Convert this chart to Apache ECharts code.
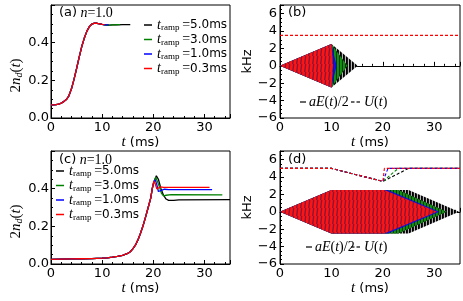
<!DOCTYPE html>
<html><head><meta charset="utf-8">
<script src="https://cdn.jsdelivr.net/npm/echarts@6/dist/echarts.min.js"></script>
<style>html,body{margin:0;padding:0;background:#fff}#c{width:463px;height:301px}</style>
</head><body><div id="c"></div>
<script>
// ---------------- data ----------------
const ramps = ['5.0', '3.0', '1.0', '0.3'];        // t_ramp (ms), legend order
const rampColors = ['#000000', '#008000', '#0000ff', '#ff0000'];

// panel (a): 2 n_d(t), shared part then per-ramp tails
const aCommonT = [0, 0.5, 1, 1.5, 2, 2.5, 3, 3.5, 4, 4.5, 5, 5.5, 6, 6.5, 7, 7.5, 8, 8.5, 9, 9.5, 10];
const aCommonN = [0.070, 0.070, 0.071, 0.074, 0.079, 0.087, 0.098, 0.118, 0.155, 0.205, 0.262, 0.322, 0.378, 0.423, 0.460, 0.485, 0.499, 0.504, 0.503, 0.500, 0.497];
const aTail50T = [10.5, 11, 11.5, 12, 13, 14, 15, 15.5];
const aTail50N = [0.495, 0.493, 0.493, 0.494, 0.495, 0.496, 0.496, 0.496];
const aTail30T = [10.5, 11, 11.5, 12, 12.5, 13, 13.5];
const aTail30N = [0.495, 0.493, 0.493, 0.494, 0.495, 0.496, 0.496];
const aTail10T = [10.5, 11, 11.3];
const aTail10N = [0.495, 0.494, 0.494];
const aTail03T = [10.5];
const aTail03N = [0.496];

// panel (c)
const cCommonT = [0, 2, 4, 6, 8, 10, 11, 12, 13, 14, 15, 15.5, 16, 16.5, 17, 17.5, 18, 18.5, 19, 19.5];
const cCommonN = [0.025, 0.026, 0.027, 0.028, 0.029, 0.031, 0.033, 0.036, 0.040, 0.046, 0.056, 0.065, 0.080, 0.100, 0.128, 0.163, 0.203, 0.250, 0.300, 0.350];
const cTail50T = [19.8, 20.1, 20.6, 21, 21.5, 22, 22.5, 23, 24, 25, 35];
const cTail50N = [0.400, 0.435, 0.468, 0.450, 0.400, 0.365, 0.345, 0.338, 0.338, 0.341, 0.342];
const cTail30T = [19.8, 20.1, 20.5, 20.8, 21.2, 21.6, 22, 22.5, 23.5, 33.5];
const cTail30N = [0.400, 0.435, 0.460, 0.450, 0.410, 0.375, 0.362, 0.365, 0.368, 0.367];
const cTail10T = [19.8, 20.1, 20.4, 20.7, 21.0, 21.3, 21.7, 22.2, 23, 31.5];
const cTail10N = [0.400, 0.435, 0.447, 0.420, 0.385, 0.378, 0.392, 0.397, 0.395, 0.395];
const cTail03T = [19.8, 20.1, 20.4, 20.7, 21.0, 21.4, 22, 31];
const cTail03N = [0.400, 0.440, 0.425, 0.398, 0.402, 0.410, 0.407, 0.407];

// panel (b): envelope of aE(t)/2 (kHz) and U(t) (identical for every ramp)
const bEnvT = { '5.0': [0, 10, 15.1], '3.0': [0, 10, 13.1], '1.0': [0, 10, 11], '0.3': [0, 10, 10.35] };
const bEnvA = [0, 2.5, 0];
const bUT = [0, 35];
const bUV = [3.5, 3.5];

// panel (d)
const dEnvT = { '5.0': [0, 10, 25, 34.8], '3.0': [0, 10, 23, 32.4], '1.0': [0, 10, 21, 31], '0.3': [0, 10, 20.3, 30.5] };
const dEnvA = [0, 2.5, 2.5, 0];
const dUT = { '5.0': [0, 10, 20, 25, 35], '3.0': [0, 10, 20, 23, 35], '1.0': [0, 10, 20, 21, 35], '0.3': [0, 10, 20, 20.3, 35] };
const dUV = [5, 5, 3.5, 5, 5];

const xTicks = { min: 0, max: 35, interval: 10 };
const nTicks = { min: 0, max: 0.6, interval: 0.2 };
const kTicks = { min: -6, max: 7, interval: 2 };

// ---------------- helpers ----------------
const zip = (ts, vs) => ts.map((t, i) => [t, vs[i]]);
const aData = {
  '5.0': zip(aCommonT.concat(aTail50T), aCommonN.concat(aTail50N)),
  '3.0': zip(aCommonT.concat(aTail30T), aCommonN.concat(aTail30N)),
  '1.0': zip(aCommonT.concat(aTail10T), aCommonN.concat(aTail10N)),
  '0.3': zip(aCommonT.concat(aTail03T), aCommonN.concat(aTail03N))
};
const cData = {
  '5.0': zip(cCommonT.concat(cTail50T), cCommonN.concat(cTail50N)),
  '3.0': zip(cCommonT.concat(cTail30T), cCommonN.concat(cTail30N)),
  '1.0': zip(cCommonT.concat(cTail10T), cCommonN.concat(cTail10N)),
  '0.3': zip(cCommonT.concat(cTail03T), cCommonN.concat(cTail03N))
};

function stripe(base, dark, w, dw, slant) {
  const h = 8;
  const c = document.createElement('canvas');
  c.width = w; c.height = h;
  const g = c.getContext('2d');
  g.fillStyle = base; g.fillRect(0, 0, w, h);
  g.strokeStyle = dark; g.lineWidth = dw;
  g.beginPath();
  for (let o = -w; o <= w; o += w) { g.moveTo(o + dw / 2, h); g.lineTo(o + dw / 2 + slant, 0); }
  g.stroke();
  return c;
}
const patterns = {
  '5.0': { image: stripe('#000000', '#ffffff', 3, 0.8, 0), repeat: 'repeat' },
  '3.0': { image: stripe('#139113', '#062806', 3, 0.9, 0), repeat: 'repeat' },
  '1.0': { image: stripe('#1010f0', '#101070', 3, 0.6, 0), repeat: 'repeat' },
  '0.3': { image: stripe('#ff1414', '#86173a', 4, 1.4, 1), repeat: 'repeat' }
};

function envSeries(gi, ts, amps, fill) {
  const up = ts.map((t, i) => [t, amps[i]]);
  const pts = up.concat(up.slice().reverse().map(p => [p[0], -p[1]]));
  return {
    type: 'custom', xAxisIndex: gi, yAxisIndex: gi, data: pts, silent: true,
    renderItem(params, api) {
      if (params.dataIndex !== 0) return null;
      return { type: 'polygon', shape: { points: pts.map(p => api.coord(p)) }, style: { fill: fill, stroke: null } };
    }
  };
}

const serif = 'Liberation Serif';
const sans = 'DejaVu Sans';
const mathRich = {
  i: { fontFamily: serif, fontStyle: 'italic', fontSize: 15, color: '#000' },
  r: { fontFamily: serif, fontSize: 15, color: '#000' },
  s: { fontFamily: serif, fontStyle: 'italic', fontSize: 10, color: '#000', padding: [7, 0, 0, 0] },
  m: { fontFamily: sans, fontSize: 13, color: '#000' }
};

function xAxis(gi) {
  return {
    type: 'value', gridIndex: gi, min: xTicks.min, max: xTicks.max, interval: xTicks.interval,
    axisLine: { show: true, lineStyle: { color: '#000', width: 1 } },
    axisTick: { show: true, inside: true, length: 4, lineStyle: { color: '#000' } },
    minorTick: { show: true, splitNumber: 5, length: 2, lineStyle: { color: '#000' } },
    splitLine: { show: false },
    axisLabel: { margin: 3, fontSize: 13, color: '#000', fontFamily: sans, showMaxLabel: false },
    name: '{i|t}{m| (ms)}', nameLocation: 'middle', nameGap: 16,
    nameTextStyle: { rich: mathRich }
  };
}
function yAxisN(gi) {
  return {
    type: 'value', gridIndex: gi, min: nTicks.min, max: nTicks.max, interval: nTicks.interval,
    axisLine: { show: true, lineStyle: { color: '#000', width: 1 } },
    axisTick: { show: true, inside: true, length: 4, lineStyle: { color: '#000' } },
    minorTick: { show: true, splitNumber: 4, length: 2, lineStyle: { color: '#000' } },
    splitLine: { show: false },
    axisLabel: { margin: 2, fontSize: 13, color: '#000', fontFamily: sans, showMaxLabel: false, formatter: v => v.toFixed(1) },
    name: '{r|2}{i|n}{s|d}{r|(}{i|t}{r|)}', nameLocation: 'middle', nameGap: 24,
    nameTextStyle: { rich: mathRich, padding: [0, 28, 0, 0] }
  };
}
function yAxisK(gi) {
  return {
    type: 'value', gridIndex: gi, min: kTicks.min, max: kTicks.max, interval: kTicks.interval,
    axisLine: { show: true, lineStyle: { color: '#000', width: 1 } },
    axisTick: { show: true, inside: true, length: 4, lineStyle: { color: '#000' } },
    minorTick: { show: true, splitNumber: 4, length: 2, lineStyle: { color: '#000' } },
    splitLine: { show: false },
    axisLabel: { margin: 3, fontSize: 13, color: '#000', fontFamily: sans, showMaxLabel: false,
      formatter: v => (v < 0 ? '\u2212' + (-v) : String(v)) },
    name: 'kHz', nameLocation: 'middle', nameGap: 19,
    nameTextStyle: { fontFamily: sans, fontSize: 13, color: '#000' }
  };
}

const series = [];
ramps.forEach((r, k) => {
  series.push({ name: r, type: 'line', xAxisIndex: 0, yAxisIndex: 0, data: aData[r], showSymbol: false, symbol: 'none',
    lineStyle: { color: rampColors[k], width: 1.3 }, itemStyle: { color: rampColors[k] }, z: 2 + k });
  series.push({ name: r, type: 'line', xAxisIndex: 2, yAxisIndex: 2, data: cData[r], showSymbol: false, symbol: 'none',
    lineStyle: { color: rampColors[k], width: 1.3 }, itemStyle: { color: rampColors[k] }, z: 2 + k });
});
ramps.forEach((r, k) => {
  const s1 = envSeries(1, bEnvT[r], bEnvA, patterns[r]); s1.z = 2 + k; series.push(s1);
  const s2 = envSeries(3, dEnvT[r], dEnvA, patterns[r]); s2.z = 2 + k; series.push(s2);
});
// U(t) in (b): all ramps coincide, the last-drawn (red) one is what shows
series.push({ type: 'line', xAxisIndex: 1, yAxisIndex: 1, data: zip(bUT, bUV), showSymbol: false, symbol: 'none', silent: true,
  lineStyle: { color: rampColors[3], width: 1.1, type: [3, 2] }, z: 13 });
ramps.forEach((r, k) => {
  series.push({ type: 'line', xAxisIndex: 3, yAxisIndex: 3, data: zip(dUT[r], dUV), showSymbol: false, symbol: 'none', silent: true,
    lineStyle: { color: rampColors[k], width: 1.1, type: [3, 2] }, z: 10 + k });
});

const legendRich = {
  t: { fontFamily: serif, fontStyle: 'italic', fontSize: 14, color: '#000' },
  s: { fontFamily: serif, fontSize: 9, color: '#000', padding: [6, 0, 0, 0] },
  e: { fontFamily: serif, fontSize: 14, color: '#000' },
  v: { fontFamily: sans, fontSize: 12, color: '#000' }
};
const legendFmt = name => '{t|t}{s|ramp}{e|\u2009=}{v|' + name + 'ms}';
function legend(left, top) {
  return { data: ramps, orient: 'vertical', left: left, top: top, icon: 'rect', itemWidth: 8, itemHeight: 1.5,
    itemGap: 0, itemTextGap: 4, padding: 0, formatter: legendFmt, textStyle: { rich: legendRich }, selectedMode: false };
}

const labRich = {
  p: { fontFamily: sans, fontSize: 13, color: '#000' },
  i: { fontFamily: serif, fontStyle: 'italic', fontSize: 14, color: '#000' },
  r: { fontFamily: serif, fontSize: 14, color: '#000' }
};
const legRich = {
  i: { fontFamily: serif, fontStyle: 'italic', fontSize: 14, color: '#000' },
  r: { fontFamily: serif, fontSize: 14, color: '#000' }
};
function mathLegend(x, y, gapU) {
  return [
    { type: 'line', shape: { x1: x, y1: y, x2: x + 6, y2: y }, style: { stroke: '#000', lineWidth: 1.2 } },
    { type: 'text', x: x + 9, y: y, style: { text: '{i|aE}{r|(}{i|t}{r|)/2}', rich: legRich, verticalAlign: 'middle' } },
    { type: 'line', shape: { x1: gapU - 13, y1: y, x2: gapU - 9.5, y2: y }, style: { stroke: '#000', lineWidth: 1.2 } },
    { type: 'line', shape: { x1: gapU - 7.5, y1: y, x2: gapU - 4, y2: y }, style: { stroke: '#000', lineWidth: 1.2 } },
    { type: 'text', x: gapU, y: y, style: { text: '{i|U}{r|(}{i|t}{r|)}', rich: legRich, verticalAlign: 'middle' } }
  ];
}

const option = {
  animation: false,
  backgroundColor: '#fff',
  grid: [
    { left: 51, top: 5, width: 179, height: 113, show: true, borderColor: '#000', borderWidth: 1, backgroundColor: 'transparent' },
    { left: 280, top: 5, width: 180, height: 113, show: true, borderColor: '#000', borderWidth: 1, backgroundColor: 'transparent' },
    { left: 51, top: 151, width: 179, height: 113, show: true, borderColor: '#000', borderWidth: 1, backgroundColor: 'transparent' },
    { left: 280, top: 151, width: 180, height: 113, show: true, borderColor: '#000', borderWidth: 1, backgroundColor: 'transparent' }
  ],
  xAxis: [xAxis(0), xAxis(1), xAxis(2), xAxis(3)],
  yAxis: [yAxisN(0), yAxisK(1), yAxisN(2), yAxisK(3)],
  legend: [legend(144, 18), legend(56, 164)],
  series: series,
  graphic: [
    { type: 'text', left: 59, top: 6, style: { text: '{p|(a)} {i|n}{r|=1.0}', rich: labRich } },
    { type: 'text', left: 288, top: 6, style: { text: '{p|(b)}', rich: labRich } },
    { type: 'text', left: 59, top: 153, style: { text: '{p|(c)} {i|n}{r|=1.0}', rich: labRich } },
    { type: 'text', left: 288, top: 153, style: { text: '{p|(d)}', rich: labRich } }
  ].concat(mathLegend(300, 102, 364), mathLegend(306, 247, 364))
};

const chart = echarts.init(document.getElementById('c'), null, { renderer: 'canvas' });
chart.setOption(option);
</script>
</body></html>
